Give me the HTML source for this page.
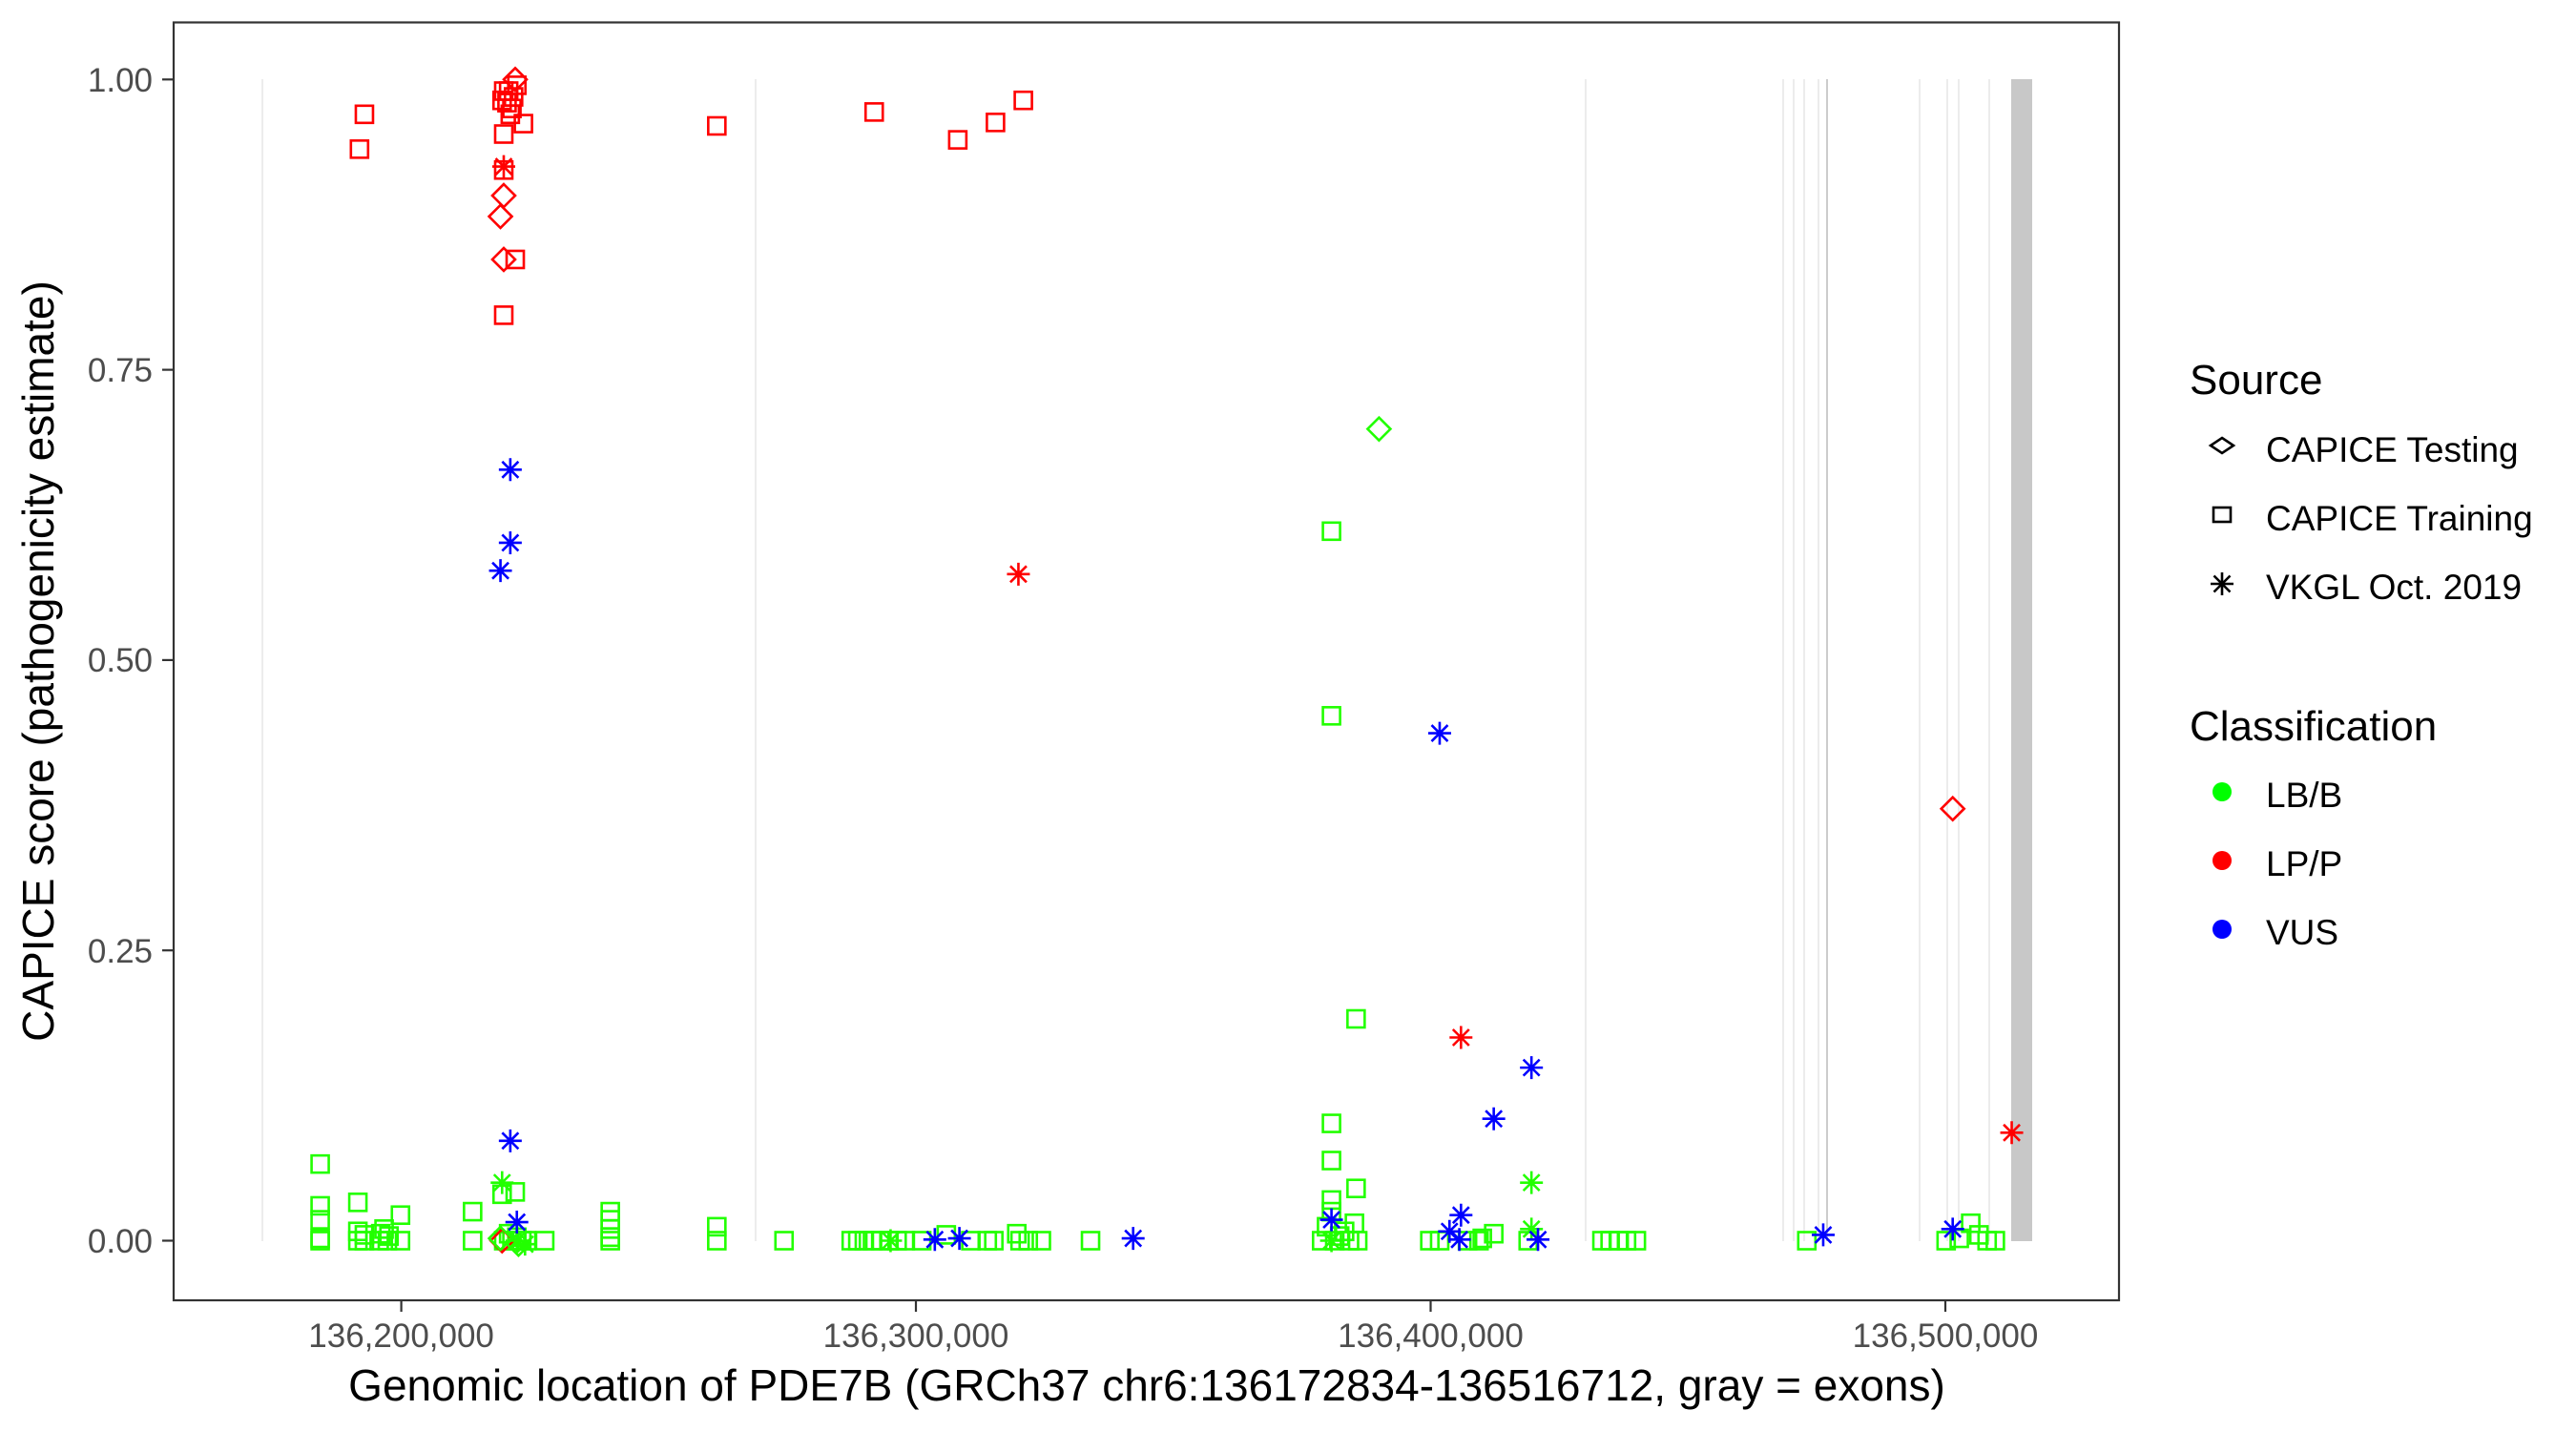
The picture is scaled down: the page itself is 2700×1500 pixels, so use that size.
<!DOCTYPE html>
<html><head><meta charset="utf-8">
<style>
html,body{margin:0;padding:0;background:#fff;}
svg{display:block;}
text{font-family:"Liberation Sans",Arial,sans-serif;}
</style></head>
<body>
<svg id="s" width="2700" height="1500" viewBox="0 0 2700 1500" xmlns="http://www.w3.org/2000/svg">
<rect x="0" y="0" width="2700" height="1500" fill="#fff"/>
<g id="exons" stroke="#e6e6e6" stroke-width="1.5">
<line x1="275" y1="83" x2="275" y2="1301"/>
<line x1="792" y1="83" x2="792" y2="1301"/>
<line x1="1662" y1="83" x2="1662" y2="1301"/>
<line x1="1869" y1="83" x2="1869" y2="1301"/>
<line x1="1880" y1="83" x2="1880" y2="1301"/>
<line x1="1891" y1="83" x2="1891" y2="1301"/>
<line x1="1906" y1="83" x2="1906" y2="1301"/>
<line x1="1915" y1="83" x2="1915" y2="1301" stroke="#cccccc" stroke-width="2"/>
<line x1="2012" y1="83" x2="2012" y2="1301"/>
<line x1="2041" y1="83" x2="2041" y2="1301"/>
<line x1="2053" y1="83" x2="2053" y2="1301"/>
<line x1="2085" y1="83" x2="2085" y2="1301"/>
</g>
<rect x="2108" y="83" width="22" height="1218" fill="#c8c8c8"/>
<g id="pts" fill="none" stroke-width="2.6"></g>
<rect x="182" y="23.5" width="2039" height="1339.5" fill="none" stroke="#333" stroke-width="2.2"/>
<g stroke="#333" stroke-width="2.2">
<line x1="170" y1="83.3" x2="182" y2="83.3"/>
<line x1="170" y1="387.6" x2="182" y2="387.6"/>
<line x1="170" y1="691.9" x2="182" y2="691.9"/>
<line x1="170" y1="996.2" x2="182" y2="996.2"/>
<line x1="170" y1="1300.5" x2="182" y2="1300.5"/>
<line x1="420.6" y1="1363" x2="420.6" y2="1375"/>
<line x1="960" y1="1363" x2="960" y2="1375"/>
<line x1="1499.5" y1="1363" x2="1499.5" y2="1375"/>
<line x1="2039" y1="1363" x2="2039" y2="1375"/>
</g>
<g fill="#4d4d4d" font-size="35" text-anchor="end">
<text x="160" y="96">1.00</text>
<text x="160" y="400">0.75</text>
<text x="160" y="704">0.50</text>
<text x="160" y="1009">0.25</text>
<text x="160" y="1313">0.00</text>
</g>
<g fill="#4d4d4d" font-size="35" text-anchor="middle">
<text x="420.6" y="1412">136,200,000</text>
<text x="960" y="1412">136,300,000</text>
<text x="1499.5" y="1412">136,400,000</text>
<text x="2039" y="1412">136,500,000</text>
</g>
<text x="1202" y="1468" font-size="46" text-anchor="middle" fill="#000">Genomic location of PDE7B (GRCh37 chr6:136172834-136516712, gray = exons)</text>
<text transform="translate(56,693) rotate(-90)" font-size="46" text-anchor="middle" fill="#000">CAPICE score (pathogenicity estimate)</text>
<text x="2295" y="413" font-size="44" fill="#000">Source</text>
<g font-size="37" fill="#000">
<text x="2375" y="484">CAPICE Testing</text>
<text x="2375" y="556">CAPICE Training</text>
<text x="2375" y="628">VKGL Oct. 2019</text>
<text x="2375" y="846">LB/B</text>
<text x="2375" y="918">LP/P</text>
<text x="2375" y="990">VUS</text>
</g>
<text x="2295" y="776" font-size="44" fill="#000">Classification</text>
<g id="leg" fill="none" stroke="#000" stroke-width="2.6"></g>
<circle cx="2329" cy="830" r="10" fill="#00ff00"/>
<circle cx="2329" cy="902" r="10" fill="#ff0000"/>
<circle cx="2329" cy="974" r="10" fill="#0000ff"/>
</svg>
<script>
var NS="http://www.w3.org/2000/svg";
function X(t){return t*1.718+4;}
function Y(s){return 1300.5-s*1217.2;}
function mk(g,type,cx,cy,col){
  var e;
  if(type==='s'){e=document.createElementNS(NS,'rect');e.setAttribute('x',cx-9);e.setAttribute('y',cy-9);e.setAttribute('width',18);e.setAttribute('height',18);}
  else if(type==='d'){e=document.createElementNS(NS,'polygon');e.setAttribute('points',(cx)+','+(cy-12)+' '+(cx+12)+','+cy+' '+cx+','+(cy+12)+' '+(cx-12)+','+cy);}
  else {e=document.createElementNS(NS,'path');var r=12,d=8.5;
    e.setAttribute('d','M'+cx+' '+(cy-r)+'V'+(cy+r)+'M'+(cx-r)+' '+cy+'H'+(cx+r)+'M'+(cx-d)+' '+(cy-d)+'L'+(cx+d)+' '+(cy+d)+'M'+(cx-d)+' '+(cy+d)+'L'+(cx+d)+' '+(cy-d));}
  e.setAttribute('stroke',col);g.appendChild(e);
}
var g=document.getElementById('pts');
var G='#22ff00',R='#ff0000',B='#0000ff';
var data=[
['s',G,[[193,.066],[193,.03],[193,.018],[193,.002],[193,0],[216,.033],[216,.008],[216,0],[220,.005],[220,0],[229,0],[230,.006],[232,.01],[234,0],[235,.004],[242,.022],[242,0],[286,.025],[286,0],[304,.04],[312,.042],[305,0],[308,.006],[310,0],[313,.003],[316,0],[319,0],[330,0],[370,.025],[370,.018],[370,.01],[370,.003],[370,0],[435,.012],[435,0],[476,0],[517,0],[521,0],[525,0],[530,0],[535,0],[540,0],[545,0],[550,0],[560,0],[575,.005],[590,0],[600,0],[604,0],[618,.006],[620,0],[625,0],[633,0],[663,0],[810,.611],[810,.452],[825,.191],[810,.101],[810,.069],[825,.045],[810,.035],[810,.025],[807,.012],[812,0],[815,.004],[818,.008],[821,0],[824,.015],[826,0],[804,0],[870,0],[876,0],[893,0],[900,0],[902,.002],[909,.006],[930,0],[975,0],[980,0],[985,0],[990,0],[996,0],[1100,0],[1185,0],[1193,.002],[1200,.015],[1205,.005],[1210,0],[1215,0]]],
['s',R,[[217,.94],[220,.97],[305,.99],[307,.98],[309,.97],[311,.985],[313,.995],[317,.962],[305,.953],[305,.922],[312,.845],[305,.797],[308,.99],[304,.982],[310,.975],[435,.96],[531,.972],[582,.948],[605,.963],[622,.982]]],
['d',R,[[312,1.0],[305,.90],[303,.882],[305,.845],[304,0],[1189,.372]]],
['d',G,[[839,.699],[303,.002],[314,-0.003]]],
['a',G,[[304,.05],[932,.05],[932,.01],[313,0],[318,-0.003],[541,0],[810,0]]],
['a',R,[[305,.925],[619,.574],[889,.175],[1225,.093]]],
['a',B,[[309,.664],[309,.601],[303,.577],[309,.086],[313,.016],[876,.437],[932,.149],[909,.105],[889,.022],[882,.008],[888,.001],[936,.001],[810,.018],[568,.001],[583,.002],[689,.002],[1110,.005],[1189,.01]]]
];
data.forEach(function(s){s[2].forEach(function(p){mk(g,s[0],X(p[0]),Y(p[1]),s[1]);});});
var l=document.getElementById('leg');
mk(l,'d',2329,467,'#000');
l.lastChild.setAttribute('points','2329,459 2341,467 2329,475 2317,467');
var r=document.createElementNS(NS,'rect');r.setAttribute('x',2320);r.setAttribute('y',532);r.setAttribute('width',18);r.setAttribute('height',15);r.setAttribute('stroke','#000');l.appendChild(r);
mk(l,'a',2329,612,'#000');
</script>
</body></html>
